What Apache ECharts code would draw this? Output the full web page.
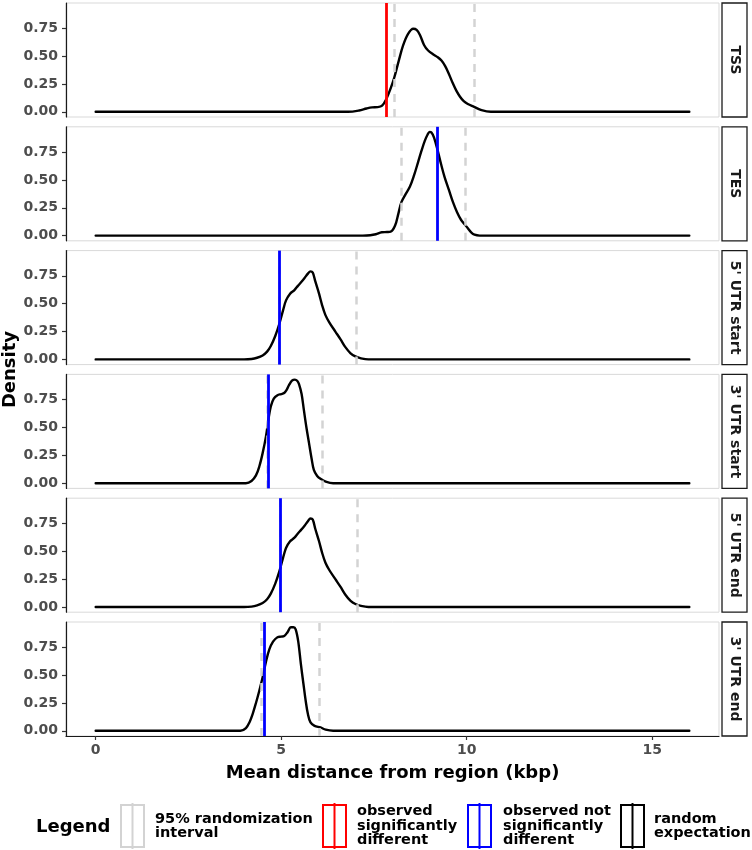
<!DOCTYPE html>
<html>
<head>
<meta charset="utf-8">
<script src="https://cdn.jsdelivr.net/npm/echarts@6/dist/echarts.min.js"></script>
<style>
html,body{margin:0;padding:0;background:#fff;}
#chart{width:752px;height:850px;}
</style>
</head>
<body>
<div id="chart"></div>
<script>
// ---- data ----
const panelNames = ["TSS", "TES", "5' UTR start", "3' UTR start", "5' UTR end", "3' UTR end"];

const xTSS = [0, 6.8, 7.1, 7.3, 7.45, 7.6, 7.72, 7.84, 7.95, 8.05, 8.17, 8.29, 8.42, 8.56, 8.65, 8.74, 8.85, 8.96, 9.1, 9.22, 9.32, 9.42, 9.52, 9.62, 9.72, 9.82, 9.92, 10.03, 10.2, 10.4, 10.65, 16];
const yTSS = [0, 0, 0.012, 0.03, 0.04, 0.042, 0.055, 0.12, 0.21, 0.31, 0.46, 0.6, 0.7, 0.745, 0.735, 0.69, 0.6, 0.55, 0.515, 0.49, 0.46, 0.41, 0.34, 0.26, 0.19, 0.135, 0.095, 0.07, 0.045, 0.015, 0, 0];

const xTES = [0, 7.2, 7.4, 7.55, 7.71, 7.85, 7.95, 8.07, 8.16, 8.24, 8.35, 8.47, 8.58, 8.69, 8.78, 8.87, 8.95, 9.0, 9.05, 9.12, 9.22, 9.31, 9.40, 9.52, 9.63, 9.74, 9.85, 9.95, 10.03, 10.12, 10.21, 10.35, 16];
const yTES = [0, 0, 0.003, 0.012, 0.03, 0.032, 0.035, 0.09, 0.2, 0.3, 0.37, 0.44, 0.54, 0.66, 0.76, 0.85, 0.91, 0.93, 0.925, 0.88, 0.76, 0.64, 0.53, 0.41, 0.3, 0.21, 0.14, 0.1, 0.066, 0.03, 0.008, 0, 0];

const x5Start = [0, 4.0, 4.2, 4.35, 4.5, 4.62, 4.72, 4.84, 4.95, 5.05, 5.13, 5.24, 5.35, 5.45, 5.53, 5.63, 5.72, 5.79, 5.85, 5.92, 6.02, 6.1, 6.19, 6.3, 6.46, 6.6, 6.73, 6.87, 7.0, 7.15, 7.35, 16];
const y5Start = [0, 0, 0.004, 0.015, 0.036, 0.07, 0.12, 0.21, 0.32, 0.44, 0.53, 0.59, 0.62, 0.66, 0.69, 0.73, 0.77, 0.79, 0.78, 0.7, 0.59, 0.49, 0.4, 0.33, 0.25, 0.18, 0.11, 0.055, 0.027, 0.01, 0, 0];

const x3Start = [0, 4.05, 4.2, 4.32, 4.41, 4.5, 4.59, 4.66, 4.72, 4.8, 4.9, 5.0, 5.08, 5.15, 5.21, 5.29, 5.37, 5.43, 5.48, 5.55, 5.61, 5.68, 5.75, 5.82, 5.88, 5.97, 6.06, 6.2, 6.4, 16];
const y3Start = [0, 0, 0.02, 0.07, 0.15, 0.27, 0.42, 0.58, 0.69, 0.76, 0.79, 0.8, 0.81, 0.84, 0.88, 0.92, 0.93, 0.92, 0.89, 0.8, 0.66, 0.5, 0.36, 0.22, 0.12, 0.065, 0.04, 0.015, 0, 0];

const x5End = [0, 4.0, 4.2, 4.35, 4.5, 4.62, 4.72, 4.84, 4.95, 5.05, 5.13, 5.24, 5.35, 5.45, 5.53, 5.63, 5.72, 5.79, 5.85, 5.92, 6.02, 6.1, 6.19, 6.3, 6.46, 6.6, 6.73, 6.87, 7.0, 7.15, 7.35, 16];
const y5End = [0, 0, 0.004, 0.015, 0.036, 0.07, 0.12, 0.21, 0.32, 0.44, 0.53, 0.59, 0.62, 0.66, 0.69, 0.73, 0.77, 0.795, 0.785, 0.7, 0.59, 0.49, 0.4, 0.33, 0.25, 0.18, 0.11, 0.055, 0.027, 0.01, 0, 0];

const x3End = [0, 3.9, 4.05, 4.15, 4.23, 4.32, 4.41, 4.5, 4.59, 4.68, 4.78, 4.9, 5.0, 5.08, 5.17, 5.26, 5.33, 5.39, 5.46, 5.53, 5.6, 5.66, 5.72, 5.79, 5.9, 6.06, 6.2, 6.4, 16];
const y3End = [0, 0, 0.025, 0.08, 0.15, 0.25, 0.36, 0.48, 0.62, 0.73, 0.8, 0.84, 0.845, 0.85, 0.885, 0.93, 0.93, 0.91, 0.8, 0.6, 0.42, 0.27, 0.15, 0.075, 0.045, 0.03, 0.01, 0, 0];

const intervalLow  = [8.04, 8.24, 4.95, 4.63, 4.97, 4.47];
const intervalHigh = [10.19, 9.97, 7.03, 6.12, 7.04, 6.02];
const observed     = [7.82, 9.20, 4.96, 4.65, 4.98, 4.55];
const significant  = [true, false, false, false, false, false];

const xTicks = [0, 5, 10, 15];
const yTicks = [0, 0.25, 0.5, 0.75];

const legendLabels = [
  ["95% randomization", "interval"],
  ["observed", "significantly", "different"],
  ["observed not", "significantly", "different"],
  ["random", "expectation"]
];

// ---- layout / style ----
const curvesX = [xTSS, xTES, x5Start, x3Start, x5End, x3End];
const curvesY = [yTSS, yTES, y5Start, y3Start, y5End, y3End];
const FONT = "DejaVu Sans";
const LEFT = 66, RIGHT_EDGE = 719, PANEL_H = 114, STEP = 123.8, TOP0 = 3;
const XMIN = -0.8, XMAX = 16.8, YMIN = -0.0465, YMAX = 0.9765;
const GRAY = '#d3d3d3', RED = '#ff0000', BLUE = '#0000ff';
const n = panelNames.length;

const grids = [], xAxes = [], yAxes = [], series = [], graphics = [];
for (let i = 0; i < n; i++) {
  const top = TOP0 + STEP * i;
  const last = i === n - 1;
  grids.push({left: LEFT, top: top, width: RIGHT_EDGE - LEFT, height: PANEL_H,
    show: true, borderColor: '#d9d9d9', borderWidth: 1, backgroundColor: 'transparent'});
  xAxes.push({type: 'value', gridIndex: i, min: XMIN, max: XMAX,
    splitLine: {show: false},
    axisLine: {show: last, onZero: false, lineStyle: {color: '#1a1a1a', width: 1.2}},
    axisTick: {show: last, length: 4, customValues: xTicks, lineStyle: {color: '#333', width: 1.2}},
    axisLabel: {show: last, customValues: xTicks, margin: 7, color: '#4d4d4d',
      fontFamily: FONT, fontWeight: 'bold', fontSize: 14},
    name: last ? 'Mean distance from region (kbp)' : '',
    nameLocation: 'middle', nameGap: 28,
    nameTextStyle: {fontFamily: FONT, fontWeight: 'bold', fontSize: 18, color: '#000'}
  });
  yAxes.push({type: 'value', gridIndex: i, min: YMIN, max: YMAX,
    splitLine: {show: false},
    axisLine: {show: true, onZero: false, lineStyle: {color: '#1a1a1a', width: 1.2}},
    axisTick: {show: true, length: 4, customValues: yTicks, lineStyle: {color: '#333', width: 1.2}},
    axisLabel: {show: true, customValues: yTicks, margin: 8, color: '#4d4d4d',
      fontFamily: FONT, fontWeight: 'bold', fontSize: 14,
      formatter: v => v.toFixed(2)}
  });
  // interval lines (under)
  series.push({type: 'line', xAxisIndex: i, yAxisIndex: i, data: [], z: 2, silent: true,
    markLine: {silent: true, symbol: ['none', 'none'], label: {show: false},
      lineStyle: {color: GRAY, width: 2.5, type: [8, 7]},
      emphasis: {disabled: true},
      data: [{xAxis: intervalLow[i]}, {xAxis: intervalHigh[i]}]}
  });
  // density curve
  series.push({type: 'line', xAxisIndex: i, yAxisIndex: i, z: 3, silent: true,
    data: curvesX[i].map((x, k) => [x, curvesY[i][k]]),
    showSymbol: false, smooth: 0.35,
    lineStyle: {color: '#000', width: 2.4, cap: 'round', join: 'round'}
  });
  // observed line (top)
  series.push({type: 'line', xAxisIndex: i, yAxisIndex: i, data: [], z: 4, silent: true,
    markLine: {silent: true, symbol: ['none', 'none'], label: {show: false},
      lineStyle: {color: significant[i] ? RED : BLUE, width: 2.8, type: 'solid'},
      emphasis: {disabled: true},
      data: [{xAxis: observed[i]}]}
  });
  // strip
  graphics.push({type: 'rect', shape: {x: 722, y: top, width: 25, height: PANEL_H},
    style: {fill: '#fff', stroke: '#1a1a1a', lineWidth: 1.3}});
  graphics.push({type: 'text', x: 735, y: top + PANEL_H / 2, rotation: -Math.PI / 2,
    style: {text: panelNames[i], fill: '#1a1a1a', font: 'bold 14px "' + FONT + '"',
      align: 'center', verticalAlign: 'middle'}});
}

// y title
graphics.push({type: 'text', x: 10, y: (TOP0 + TOP0 + STEP * (n - 1) + PANEL_H) / 2, rotation: Math.PI / 2,
  style: {text: 'Density', fill: '#000', font: 'bold 18px "' + FONT + '"', align: 'center', verticalAlign: 'middle'}});

// legend
graphics.push({type: 'text', x: 36, y: 827,
  style: {text: 'Legend', fill: '#000', font: 'bold 18px "' + FONT + '"', align: 'left', verticalAlign: 'middle'}});
const keyColors = [GRAY, RED, BLUE, '#000'];
const keyX = [121, 323, 468, 621];
const textX = [155, 357, 503, 654];
for (let k = 0; k < 4; k++) {
  graphics.push({type: 'rect', shape: {x: keyX[k], y: 805, width: 23, height: 42},
    style: {fill: 'none', stroke: keyColors[k], lineWidth: 2}});
  graphics.push({type: 'line', shape: {x1: keyX[k] + 11.5, y1: 803, x2: keyX[k] + 11.5, y2: 849},
    style: {stroke: keyColors[k], lineWidth: 2}});
  const lines = legendLabels[k];
  const lh = 14.5;
  const y0 = 826 - (lines.length - 1) * lh / 2;
  lines.forEach((t, j) => {
    graphics.push({type: 'text', x: textX[k], y: y0 + j * lh,
      style: {text: t, fill: '#000', font: 'bold 14.5px "' + FONT + '"', align: 'left', verticalAlign: 'middle'}});
  });
}

const chart = echarts.init(document.getElementById('chart'), null, {renderer: 'canvas'});
chart.setOption({
  animation: false,
  backgroundColor: '#fff',
  grid: grids, xAxis: xAxes, yAxis: yAxes, series: series, graphic: graphics
});
</script>
</body>
</html>
